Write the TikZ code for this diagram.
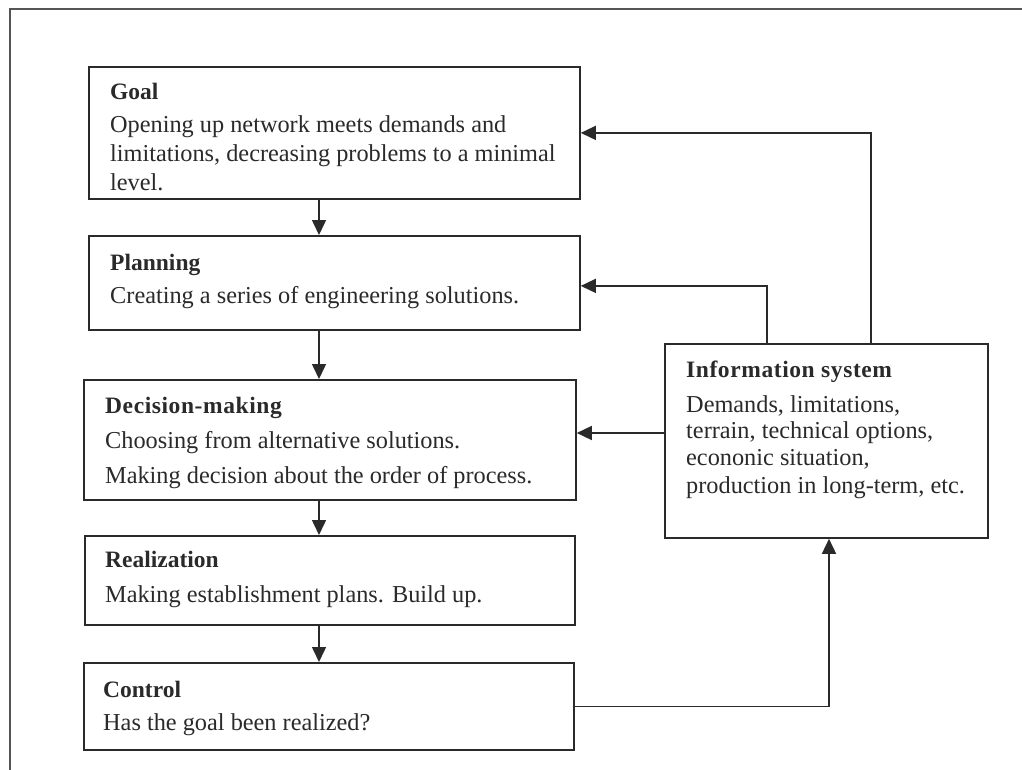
\documentclass[tikz,border=0pt]{standalone}
\usepackage{fontspec}
\setmainfont{Liberation Serif}
\usetikzlibrary{arrows.meta}
\definecolor{ink}{HTML}{2A2A2A}
\definecolor{frame}{HTML}{555555}
\begin{document}
\begin{tikzpicture}[x=1pt,y=-1pt,
  box/.style={draw=ink,line width=1.8pt,rectangle,inner sep=0pt,anchor=north west},
  ttl/.style={anchor=base west,inner sep=0pt,font=\fontsize{23.5}{28}\selectfont\bfseries,text=ink},
  wide/.style={font=\fontsize{23.5}{28}\selectfont\bfseries\addfontfeatures{LetterSpace=2.5}},
  txt/.style={anchor=base west,inner sep=0pt,font=\fontsize{24.3}{28}\selectfont,text=ink},
  arr/.style={draw=ink,line width=1.5pt,-{Triangle[length=15pt,width=14pt]}}]
\fill[white] (0,0) rectangle (1022,770);
\useasboundingbox (0,0) rectangle (1022,770);
% page frame
\draw[frame,line width=1.6pt] (10,770) -- (10,9) -- (1022,9);
% boxes
\node[box,minimum width=491pt,minimum height=132pt] (goal) at (88,66) {};
\node[box,minimum width=491pt,minimum height=94pt] (plan) at (88,235) {};
\node[box,minimum width=492pt,minimum height=120pt] (dec) at (83,379) {};
\node[box,minimum width=490pt,minimum height=89pt] (real) at (84,535) {};
\node[box,minimum width=490pt,minimum height=87pt] (ctrl) at (83,662) {};
\node[box,minimum width=323pt,minimum height=194pt] (info) at (664,343) {};
% texts
\node[ttl] (goalT) at (110,100) {Goal};
\node[txt] (goal1) at (110,133) {Opening up network meets demands and};
\node[txt] (goal2) at (110,162) {limitations, decreasing problems to a minimal};
\node[txt] (goal3) at (110,190) {level.};
\node[ttl] (planT) at (110,270) {Planning};
\node[txt] (plan1) at (110,303) {Creating a series of engineering solutions.};
\node[ttl,wide] (decT) at (105,413) {Decision-making};
\node[txt] (dec1) at (105,448) {Choosing from alternative solutions.};
\node[txt] (dec2) at (105,483) {Making decision about the order of process.};
\node[ttl] (realT) at (105,567) {Realization};
\node[txt] (real1) at (105,602) {Making establishment plans. Build up.};
\node[ttl] (ctrlT) at (103,697) {Control};
\node[txt] (ctrl1) at (103,730) {Has the goal been realized?};
\node[ttl,wide] (infoT) at (686,377) {Information system};
\node[txt] (info1) at (686,412) {Demands, limitations,};
\node[txt] (info2) at (686,438) {terrain, technical options,};
\node[txt] (info3) at (686,465) {econonic situation,};
\node[txt] (info4) at (686,493) {production in long-term, etc.};
% connector guide coordinates
\coordinate (ax) at (319,0);
\coordinate (c1) at (871,0);
\coordinate (c2) at (767,0);
\coordinate (c3) at (0,433);
\coordinate (c4) at (829,0);
% main flow
\draw[arr] (goal.south -| ax) -- (plan.north -| ax);
\draw[arr] (plan.south -| ax) -- (dec.north -| ax);
\draw[arr] (dec.south -| ax) -- (real.north -| ax);
\draw[arr] (real.south -| ax) -- (ctrl.north -| ax);
% feedback
\draw[arr] (info.north -| c1) |- (goal.east);
\draw[arr] (info.north -| c2) |- ([yshift=-3pt]plan.east);
\draw[arr] (info.west |- c3) -- (dec.east |- c3);
\draw[arr] (ctrl.east) -| (info.south -| c4);
\end{tikzpicture}
\end{document}
